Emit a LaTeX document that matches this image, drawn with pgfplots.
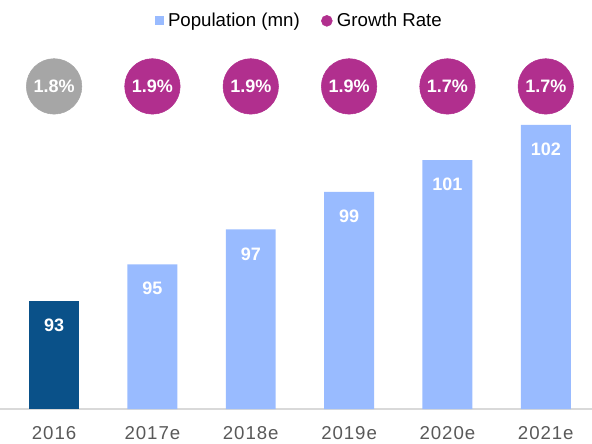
\documentclass[border=0pt]{standalone}
\usepackage{fontspec}
\setmainfont{Liberation Sans}
\newfontfamily\tickfont[LetterSpace=5]{Liberation Sans}
\usepackage{pgfplots}
\pgfplotsset{compat=1.18}
\definecolor{lb}{HTML}{99BBFF}
\definecolor{db}{HTML}{0A5189}
\definecolor{pu}{HTML}{B12F8E}
\definecolor{gr}{HTML}{A6A6A6}
\definecolor{axgray}{HTML}{D9D9D9}
\definecolor{tgray}{HTML}{595959}
\newcommand{\fs}{\fontsize{13.5}{16}\selectfont}
\begin{document}
\begin{tikzpicture}
\begin{axis}[
    at={(0,0)}, anchor=south west,
    width=444pt, height=306.75pt, scale only axis,
    xmin=-0.55, xmax=5.47, ymin=87, ymax=109.72,
    axis x line*=bottom, axis y line=none,
    axis line style={draw=axgray, line width=1.1pt},
    xtick={0,1,2,3,4,5},
    xticklabels={2016,2017e,2018e,2019e,2020e,2021e},
    major tick length=0pt,
    x tick label style={anchor=center, yshift=-17.8pt, font=\fontsize{14}{16}\tickfont, text=tgray},
    ytick=\empty,
    clip=false,
    legend style={at={(0.506,0.949)}, anchor=center, draw=none, fill=none,
        legend columns=-1, font=\fontsize{14}{16}\selectfont,
        /tikz/every even column/.append style={column sep=14pt}},
]
% 2016 actual
\addplot[ybar, bar width=0.508, bar shift=0pt, fill=db, draw=none, forget plot,
    nodes near coords, point meta=explicit symbolic,
    every node near coord/.append style={anchor=center, yshift=-18.4pt, text=white, font=\fs\bfseries}]
    coordinates {(0,93.0)[93]};
% estimates
\addplot[ybar, bar width=0.508, bar shift=0pt, fill=lb, draw=none,
    legend image code/.code={\fill[lb] (0pt,-3.4pt) rectangle (6.8pt,3.4pt); \path (8pt,0pt);},
    nodes near coords, point meta=explicit symbolic,
    every node near coord/.append style={anchor=center, yshift=-18.4pt, text=white, font=\fs\bfseries}]
    coordinates {(1,95.04)[95] (2,96.98)[97] (3,99.06)[99] (4,100.83)[101] (5,102.78)[102]};
\addlegendentry{Population (mn)}
% growth rate circles
\addplot[only marks, color=gr, mark=*, mark size=20.8pt, mark options={fill=gr, draw=gr}, forget plot,
    nodes near coords, point meta=explicit symbolic,
    every node near coord/.append style={anchor=center, text=white, font=\fs\bfseries}]
    coordinates {(0,104.92)[1.8\%]};
\addplot[only marks, color=pu, mark=*, mark size=20.8pt, mark options={fill=pu, draw=pu},
    legend image code/.code={\fill[pu] (4.1pt,0pt) circle (4.1pt); \path (9.5pt,0pt);},
    nodes near coords, point meta=explicit symbolic,
    every node near coord/.append style={anchor=center, text=white, font=\fs\bfseries}]
    coordinates {(1,104.92)[1.9\%] (2,104.92)[1.9\%] (3,104.92)[1.9\%] (4,104.92)[1.7\%] (5,104.92)[1.7\%]};
\addlegendentry{Growth Rate}
\end{axis}
\pgfresetboundingbox
\path[use as bounding box] (0pt,-25.5pt) rectangle (444pt,306.75pt);
\end{tikzpicture}
\end{document}
